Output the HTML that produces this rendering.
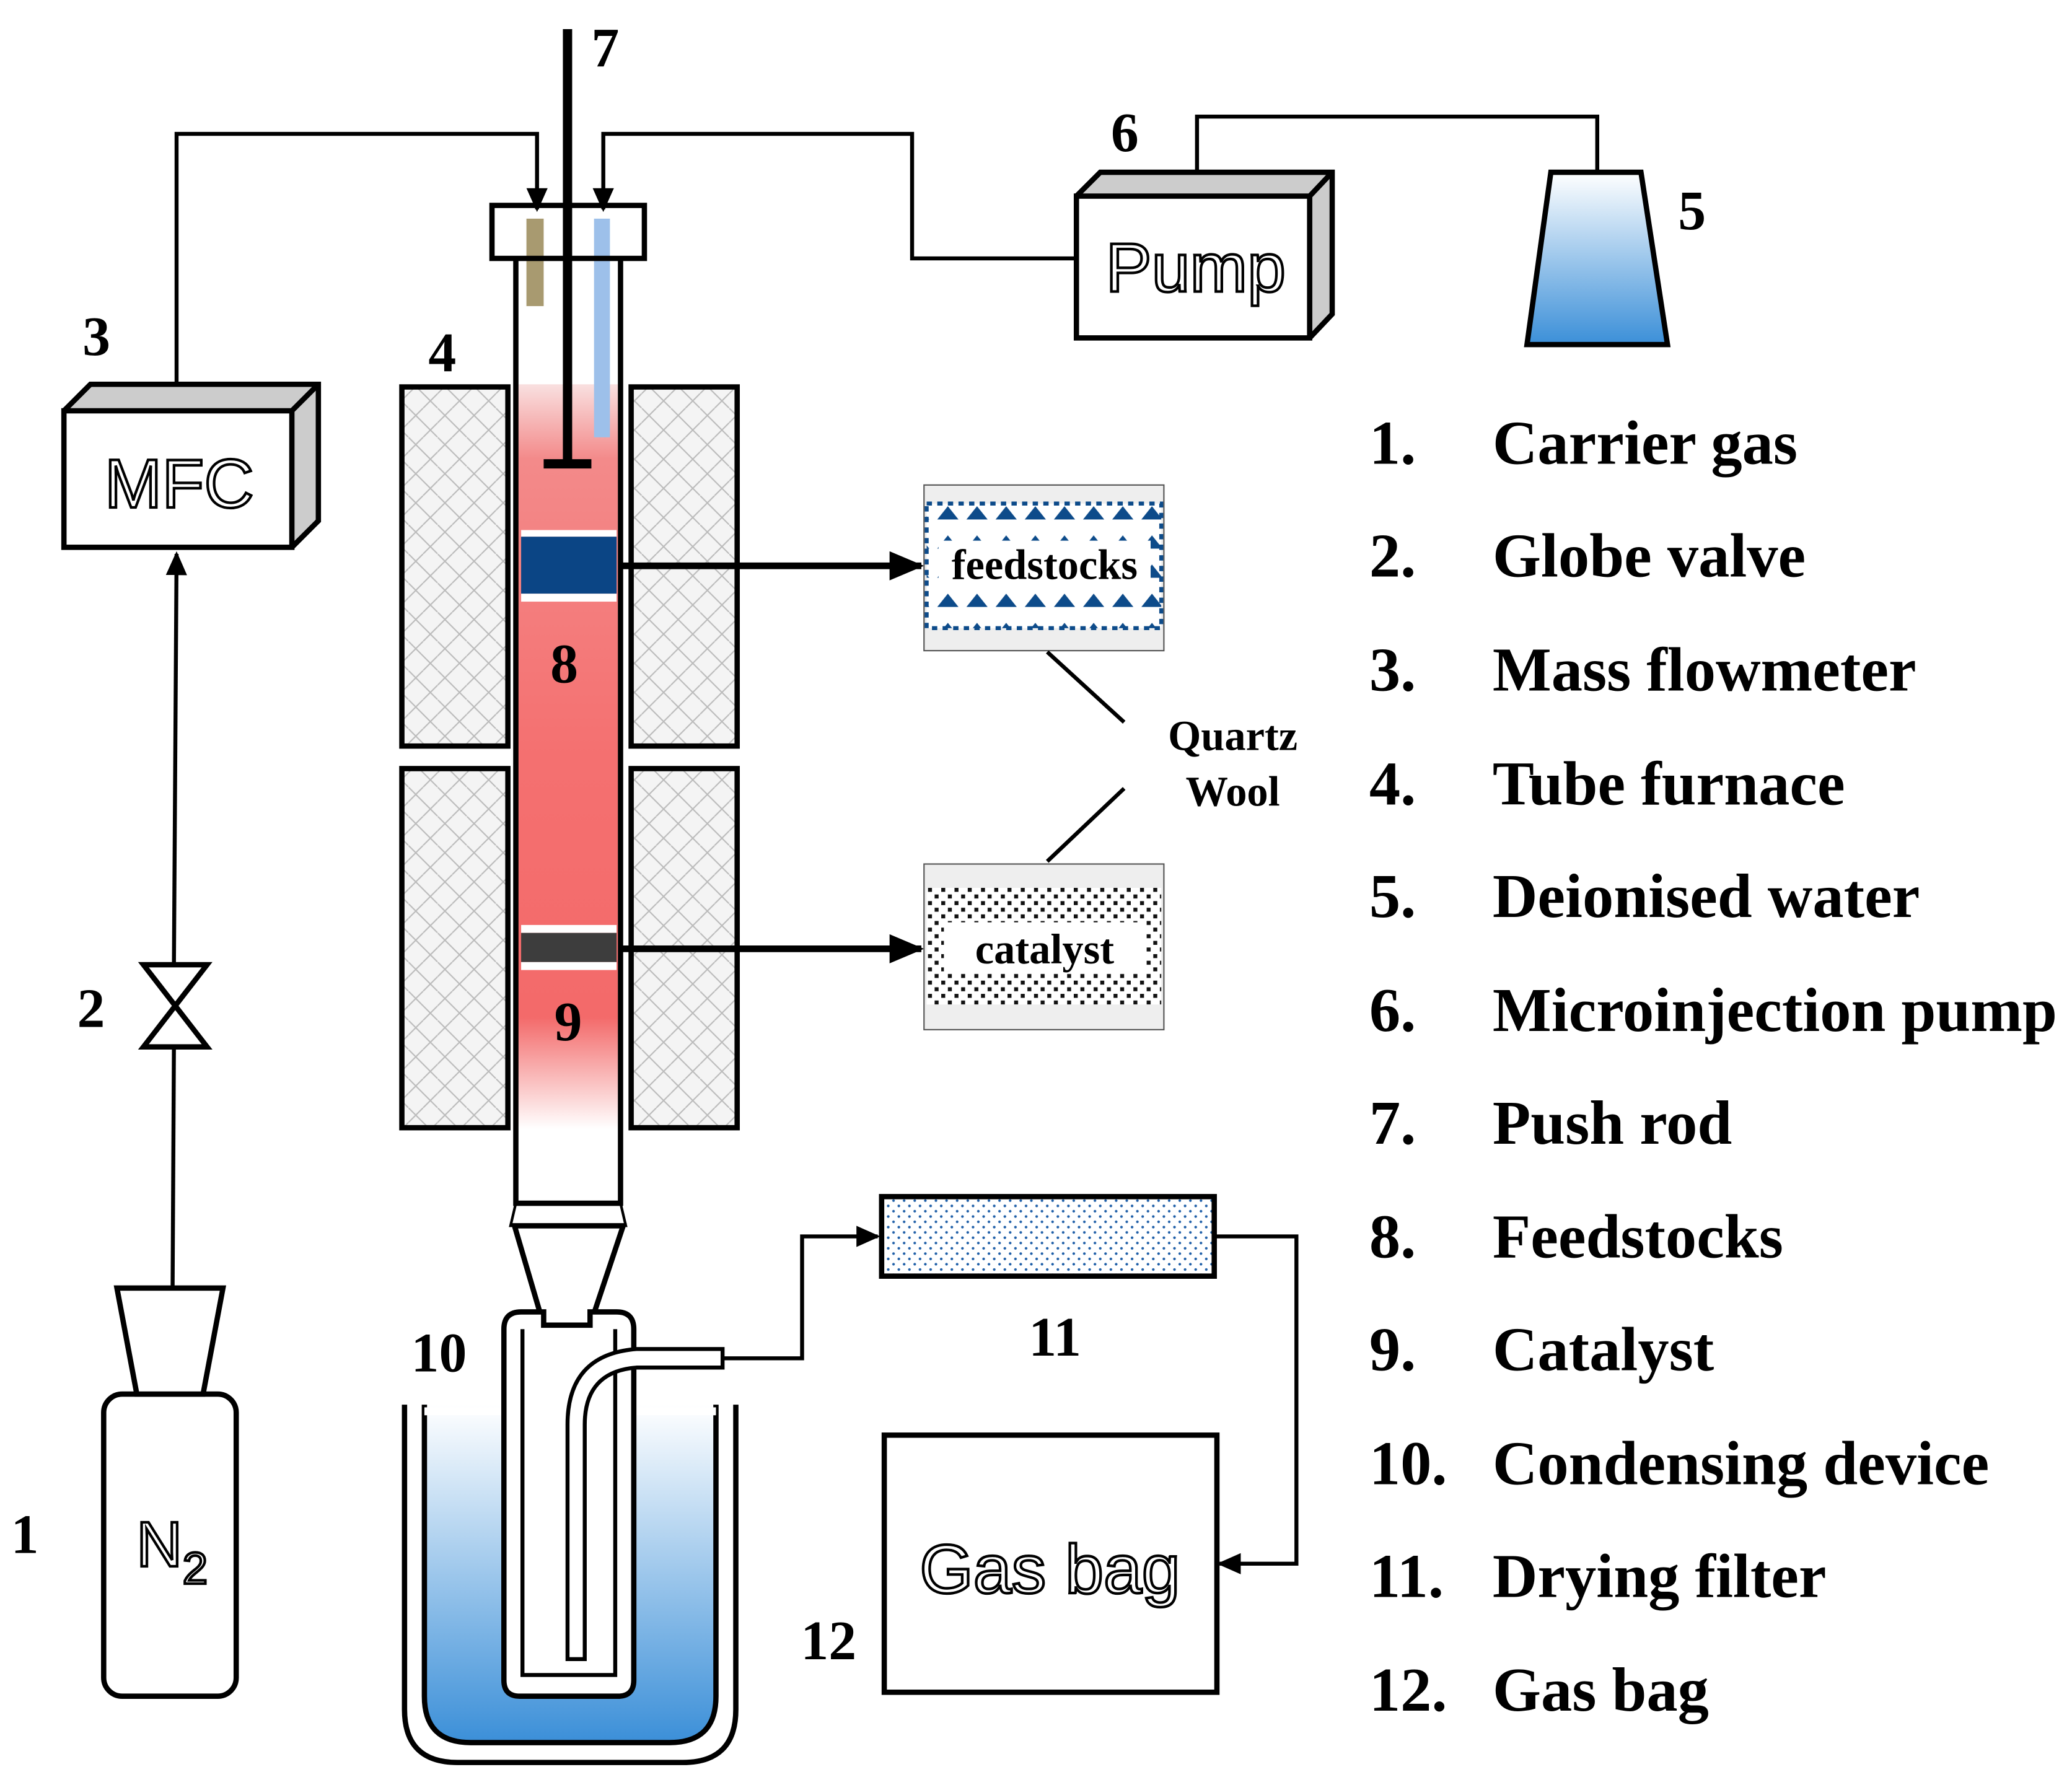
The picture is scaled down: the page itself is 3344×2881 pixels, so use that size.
<!DOCTYPE html>
<html><head><meta charset="utf-8"><style>html,body{margin:0;padding:0;background:#fff}svg{display:block}</style></head>
<body>
<svg width="3344" height="2881" viewBox="0 0 1563 1347" xmlns="http://www.w3.org/2000/svg">
<defs>
<pattern id="hatch" width="22" height="22" patternUnits="userSpaceOnUse">
<rect width="22" height="22" fill="#f4f4f4"/>
<path d="M0 11 L11 0 M11 22 L22 11 M0 0 L22 22" stroke="#bbb" stroke-width="1" fill="none"/>
</pattern>
<linearGradient id="red" x1="0" y1="0" x2="0" y2="1">
<stop offset="0" stop-color="#f9e0e0"/><stop offset="0.1" stop-color="#f38a8a"/><stop offset="0.5" stop-color="#f47070"/><stop offset="0.85" stop-color="#f36a6a"/><stop offset="1" stop-color="#fff"/>
</linearGradient>
<linearGradient id="blue" x1="0" y1="0" x2="0" y2="1">
<stop offset="0" stop-color="#fff"/><stop offset="1" stop-color="#3b8fd8"/>
</linearGradient>
<pattern id="dots" width="8" height="8" patternUnits="userSpaceOnUse"><rect width="8" height="8" fill="#fff"/><circle cx="2" cy="2" r="1" fill="#1f5fa8"/><circle cx="6" cy="6" r="1" fill="#1f5fa8"/></pattern>
<pattern id="cat" width="10" height="10" patternUnits="userSpaceOnUse"><rect width="10" height="10" fill="#fff"/><rect x="0" y="0" width="3" height="3" fill="#111"/><rect x="5" y="5" width="3" height="3" fill="#111"/></pattern>
<pattern id="feed" width="22" height="22" patternUnits="userSpaceOnUse"><rect width="22" height="22" fill="#fff"/><path d="M3 18 L11 8 L19 18Z" fill="#0d4b8a"/></pattern>
<marker id="arb" markerWidth="26" markerHeight="22" refX="24" refY="11" orient="auto" markerUnits="userSpaceOnUse"><path d="M0 0 L26 11 L0 22Z" fill="#000"/></marker>
<marker id="ars" markerWidth="18" markerHeight="16" refX="16" refY="8" orient="auto" markerUnits="userSpaceOnUse"><path d="M0 0 L18 8 L0 16Z" fill="#000"/></marker>
</defs>
<g fill="none" stroke="#000" stroke-width="4">
<rect x="78" y="1052" width="100" height="228" rx="14" fill="#fff"/>
<path d="M88 972 L168 972 L153 1052 L103 1052Z" fill="#fff"/>
<path d="M130 972 L131 790" stroke-width="3"/>
<path d="M108 728 L156 728 L108 790 L156 790Z" fill="#fff"/>
<path d="M131 728 L133 418" stroke-width="3" marker-end="url(#ars)"/>
<path d="M48 310 L68 290 L240 290 L240 393 L220 413" fill="#ccc"/>
<rect x="48" y="310" width="172" height="103" fill="#fff"/>
<path d="M220 310 L240 290"/>
<path d="M133 290 L133 101 L405 101 L405 158" stroke-width="3" marker-end="url(#ars)"/>
<path d="M812 195 L688 195 L688 101 L455 101 L455 158" stroke-width="3" marker-end="url(#ars)"/>
<rect x="303" y="292" width="80" height="271" fill="url(#hatch)"/>
<rect x="303" y="580" width="80" height="271" fill="url(#hatch)"/>
<rect x="476" y="292" width="80" height="271" fill="url(#hatch)"/>
<rect x="476" y="580" width="80" height="271" fill="url(#hatch)"/>
</g>
<rect x="390" y="290" width="76" height="562" fill="url(#red)"/>
<rect x="397" y="165" width="13" height="66" fill="#a89a70"/>
<rect x="448" y="165" width="12" height="165" fill="#9dc0ea"/>
<rect x="393" y="400" width="72" height="5" fill="#fff"/>
<rect x="393" y="405" width="72" height="43" fill="#0b4585"/>
<rect x="393" y="448" width="72" height="6" fill="#fff"/>
<rect x="393" y="698" width="72" height="6" fill="#fff"/>
<rect x="393" y="704" width="72" height="22" fill="#3d3d3d"/>
<rect x="393" y="726" width="72" height="6" fill="#fff"/>
<g fill="none" stroke="#000" stroke-width="4">
<path d="M389 195 L389 908 L468 908 L468 195"/>
<path d="M389 908 L385 925 L472 925 L468 908" stroke-width="2"/>
<rect x="371" y="155" width="115" height="40"/>
<path d="M428 22 L428 350" stroke-width="7"/>
<path d="M410 350 L446 350" stroke-width="7"/>
<path d="M468 427 L695 427" stroke-width="5" marker-end="url(#arb)"/>
<path d="M468 716 L695 716" stroke-width="5" marker-end="url(#arb)"/>
<path d="M388 925 L410 1000 L445 1000 L470 925Z" fill="#fff"/>
</g>
<rect x="697" y="366" width="181" height="125" fill="#eee" stroke="#555" stroke-width="1"/>
<rect x="699" y="380" width="177" height="94" fill="url(#feed)"/>
<rect x="699" y="380" width="177" height="94" fill="none" stroke="#0d4b8a" stroke-width="3" stroke-dasharray="4 4"/>
<rect x="708" y="408" width="160" height="36" fill="#fff"/>
<rect x="697" y="652" width="181" height="125" fill="#eee" stroke="#555" stroke-width="1"/>
<rect x="699" y="670" width="177" height="88" fill="url(#cat)"/>
<rect x="712" y="696" width="152" height="38" fill="#fff"/>
<g fill="none" stroke="#000" stroke-width="3">
<path d="M790 492 L848 545"/><path d="M848 595 L790 650"/>
</g>
<g fill="none" stroke="#000" stroke-width="4">
<path d="M812 148 L830 130 L1005 130 L1005 237 L988 255" fill="#ccc"/>
<rect x="812" y="148" width="176" height="107" fill="#fff"/>
<path d="M988 148 L1005 130"/>
<path d="M903 130 L903 88 L1205 88 L1205 130" stroke-width="3"/>
<path d="M1170 130 L1238 130 L1258 260 L1152 260Z" fill="url(#blue)"/>
</g>
<path d="M305 1060 L305 1290 Q305 1330 345 1330 L515 1330 Q555 1330 555 1290 L555 1060" fill="none" stroke="#000" stroke-width="4"/>
<path d="M320 1060 L320 1280 Q320 1315 355 1315 L505 1315 Q540 1315 540 1280 L540 1060" fill="url(#blue)" stroke="#000" stroke-width="4"/>
<rect x="320" y="1062" width="220" height="6" fill="#fff"/>
<path d="M380 1003 Q380 990 393 990 L410 990 L410 1000 L445 1000 L445 990 L465 990 Q478 990 478 1003 L478 1268 Q478 1280 466 1280 L392 1280 Q380 1280 380 1268Z" fill="#fff" stroke="#000" stroke-width="4"/>
<path d="M394 1003 L394 1264 L464 1264 L464 1003" fill="none" stroke="#000" stroke-width="3"/>
<path d="M428 1252 L428 1075 Q428 1022 480 1018 L545 1018 L545 1032 L480 1032 Q441 1035 441 1075 L441 1252Z" fill="#fff" stroke="#000" stroke-width="3"/>
<g fill="none" stroke="#000" stroke-width="3">
<path d="M545 1025 L605 1025 L605 933 L662 933" marker-end="url(#ars)"/>
<path d="M916 933 L978 933 L978 1180 L920 1180" marker-end="url(#ars)"/>
</g>
<rect x="665" y="903" width="251" height="60" fill="url(#dots)" stroke="#000" stroke-width="4"/>
<rect x="667" y="1083" width="251" height="194" fill="#fff" stroke="#000" stroke-width="4"/>
<g font-family="Liberation Sans, sans-serif" fill="#fff" stroke="#000" stroke-width="2" text-anchor="middle">
<text x="135" y="383" font-size="52">MFC</text>
<text x="902" y="220" font-size="52">Pump</text>
<text x="792" y="1202" font-size="52">Gas bag</text>
<text x="120" y="1182" font-size="48">N</text>
<text x="147" y="1195" font-size="34">2</text>
</g>
<g font-family="Liberation Serif, serif" font-weight="bold" fill="#000" font-size="42">
<text x="8" y="1172">1</text>
<text x="58" y="775">2</text>
<text x="62" y="268">3</text>
<text x="323" y="280">4</text>
<text x="1266" y="173">5</text>
<text x="838" y="114">6</text>
<text x="446" y="50">7</text>
<text x="415" y="515">8</text>
<text x="418" y="785">9</text>
<text x="310" y="1035">10</text>
<text x="776" y="1023">11</text>
<text x="604" y="1252">12</text>
<text x="788" y="437" font-size="32" text-anchor="middle">feedstocks</text>
<text x="788" y="727" font-size="32" text-anchor="middle">catalyst</text>
<text x="930" y="566" font-size="32" text-anchor="middle">Quartz</text>
<text x="930" y="608" font-size="32" text-anchor="middle">Wool</text>
</g>
<g font-family="Liberation Serif, serif" font-weight="bold" fill="#000" font-size="47">
<text x="1033" y="350">1.</text><text x="1126" y="350">Carrier gas</text>
<text x="1033" y="435">2.</text><text x="1126" y="435">Globe valve</text>
<text x="1033" y="521">3.</text><text x="1126" y="521">Mass flowmeter</text>
<text x="1033" y="607">4.</text><text x="1126" y="607">Tube furnace</text>
<text x="1033" y="692">5.</text><text x="1126" y="692">Deionised water</text>
<text x="1033" y="778">6.</text><text x="1126" y="778">Microinjection pump</text>
<text x="1033" y="863">7.</text><text x="1126" y="863">Push rod</text>
<text x="1033" y="949">8.</text><text x="1126" y="949">Feedstocks</text>
<text x="1033" y="1034">9.</text><text x="1126" y="1034">Catalyst</text>
<text x="1033" y="1120">10.</text><text x="1126" y="1120">Condensing device</text>
<text x="1033" y="1205">11.</text><text x="1126" y="1205">Drying filter</text>
<text x="1033" y="1291">12.</text><text x="1126" y="1291">Gas bag</text>
</g>
</svg>
</body></html>
